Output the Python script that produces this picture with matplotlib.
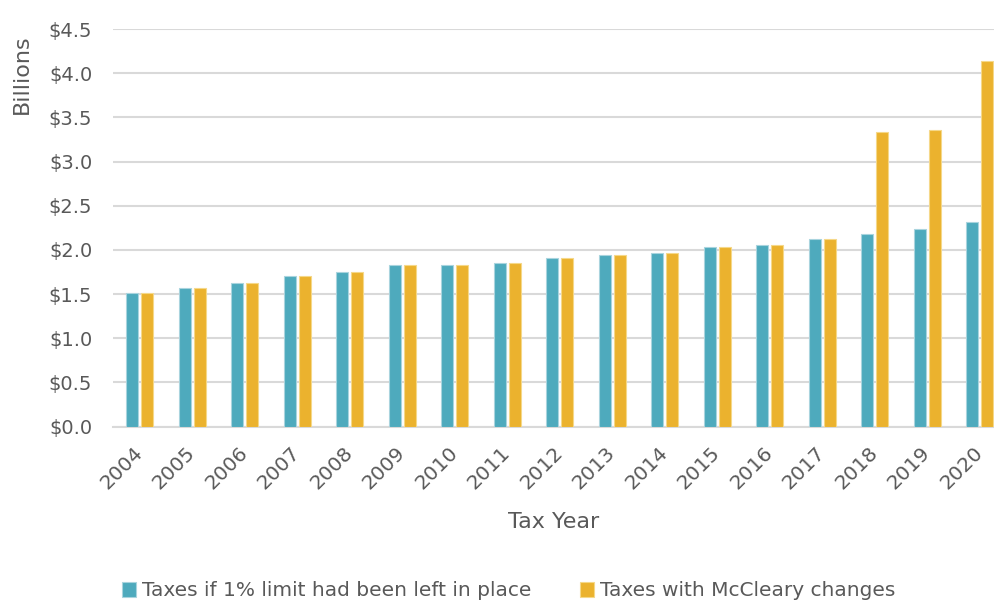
import matplotlib.pyplot as plt
import numpy as np

# values in billions
years = [str(y) for y in range(2004, 2021)]
limit_1pct = [1.51, 1.57, 1.63, 1.70, 1.75, 1.83, 1.83, 1.85, 1.91,
              1.94, 1.97, 2.03, 2.06, 2.12, 2.18, 2.24, 2.31]
mccleary = [1.51, 1.57, 1.63, 1.70, 1.75, 1.83, 1.83, 1.85, 1.91,
            1.94, 1.97, 2.03, 2.06, 2.12, 3.33, 3.36, 4.14]
yticks = [0.0, 0.5, 1.0, 1.5, 2.0, 2.5, 3.0, 3.5, 4.0, 4.5]

teal = '#4EAABD'
gold = '#EBB22E'
gray = '#595959'
font = 'DejaVu Sans'

fig = plt.figure(figsize=(9.95, 6.01), dpi=100)
ax = fig.add_axes([0.1136, 0.2903, 0.8864, 0.6614])

x = np.arange(len(years))
w = 0.23
gap = 0.05
ax.bar(x - (w + gap) / 2, limit_1pct, w, color=teal, edgecolor='#A9D4DE',
       linewidth=0.8, label='Taxes if 1% limit had been left in place', zorder=3)
ax.bar(x + (w + gap) / 2, mccleary, w, color=gold, edgecolor='#F5D889',
       linewidth=0.8, label='Taxes with McCleary changes', zorder=3)

ax.set_xlim(-0.51, 16.29)
ax.set_ylim(0, 4.5)
ax.set_yticks(yticks)
ax.set_yticklabels(['${:.1f}'.format(v) for v in yticks], fontsize=14,
                   color=gray, family=font)
ax.set_xticks(x)
ax.set_xticklabels(years, rotation=45, ha='right', va='center',
                   rotation_mode='anchor', fontsize=14.5, color=gray,
                   family=font)
ax.tick_params(axis='both', length=0)
ax.tick_params(axis='y', pad=15)
ax.tick_params(axis='x', pad=17)

ax.grid(axis='y', color='#D9D9D9', linewidth=1.5, zorder=0)
for s in ['top', 'right', 'left']:
    ax.spines[s].set_visible(False)
ax.spines['bottom'].set_color('#D9D9D9')
ax.spines['bottom'].set_linewidth(1.5)

fig.text(0.5568, 1 - 522 / 601, 'Tax Year', ha='center', va='center',
         fontsize=16, color=gray, family=font)
fig.text(22 / 995, 1 - 74 / 601, 'Billions', rotation=90, ha='center',
         va='center', fontsize=16, color=gray, family=font)

handles, labels = ax.get_legend_handles_labels()
fig.legend(handles, labels, loc='center', bbox_to_anchor=(0.511, 1 - 591 / 601),
           ncol=2, frameon=False, handlelength=0.7,
           handleheight=0.7, handletextpad=0.3, columnspacing=2.4,
           labelcolor=gray, prop={'family': font, 'size': 14.5})

fig.savefig('out.png', dpi=100)
